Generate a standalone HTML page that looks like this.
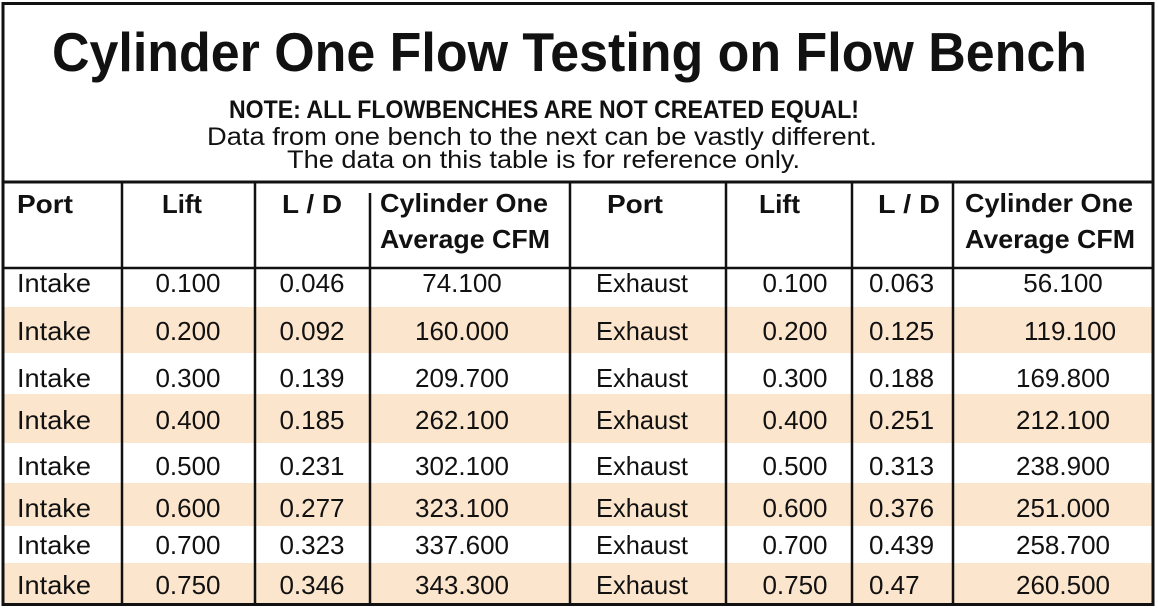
<!DOCTYPE html>
<html>
<head>
<meta charset="utf-8">
<style>
  html, body { margin: 0; padding: 0; background: #ffffff; }
  svg { display: block; }
  text { font-family: "Liberation Sans", Arial, sans-serif; fill: #111111; }
  .h { font-weight: bold; font-size: 26px; }
  .d { font-size: 26px; }
</style>
</head>
<body>
<svg width="1158" height="610" viewBox="0 0 1158 610" xmlns="http://www.w3.org/2000/svg">
  <rect x="0" y="0" width="1158" height="610" fill="#ffffff"/>

  <!-- stripe bands -->
  <rect x="3" y="307" width="1150" height="46" fill="#fce5cd"/>
  <rect x="3" y="394" width="1150" height="49" fill="#fce5cd"/>
  <rect x="3" y="483" width="1150" height="43" fill="#fce5cd"/>
  <rect x="3" y="563" width="1150" height="42" fill="#fce5cd"/>

  <!-- Title block -->
  <text x="52" y="71" font-size="55" font-weight="bold" textLength="1035" lengthAdjust="spacingAndGlyphs">Cylinder One Flow Testing on Flow Bench</text>
  <text x="229" y="118" font-size="25" font-weight="bold" textLength="630" lengthAdjust="spacingAndGlyphs">NOTE: ALL FLOWBENCHES ARE NOT CREATED EQUAL!</text>
  <text x="207" y="145" font-size="25" textLength="670" lengthAdjust="spacingAndGlyphs">Data from one bench to the next can be vastly different.</text>
  <text x="287" y="168" font-size="25" textLength="513" lengthAdjust="spacingAndGlyphs">The data on this table is for reference only.</text>

  <!-- Header -->
  <text class="h" x="17" y="213" textLength="56" lengthAdjust="spacingAndGlyphs">Port</text>
  <text class="h" x="162" y="213" textLength="40" lengthAdjust="spacingAndGlyphs">Lift</text>
  <text class="h" x="282" y="213" textLength="60" lengthAdjust="spacingAndGlyphs">L / D</text>
  <text class="h" x="380" y="212" textLength="168" lengthAdjust="spacingAndGlyphs">Cylinder One</text>
  <text class="h" x="380" y="248" textLength="170" lengthAdjust="spacingAndGlyphs">Average CFM</text>

  <text class="h" x="607" y="213" textLength="56" lengthAdjust="spacingAndGlyphs">Port</text>
  <text class="h" x="759" y="213" textLength="41" lengthAdjust="spacingAndGlyphs">Lift</text>
  <text class="h" x="878" y="213" textLength="62" lengthAdjust="spacingAndGlyphs">L / D</text>
  <text class="h" x="965" y="212" textLength="168" lengthAdjust="spacingAndGlyphs">Cylinder One</text>
  <text class="h" x="965" y="248" textLength="170" lengthAdjust="spacingAndGlyphs">Average CFM</text>

  <!-- Data rows -->
  <g class="d">
    <!-- row 1 -->
    <text class="d" x="17" y="292" textLength="74" lengthAdjust="spacingAndGlyphs">Intake</text>
    <text class="d" x="188" y="292" text-anchor="middle">0.100</text>
    <text class="d" x="312" y="292" text-anchor="middle">0.046</text>
    <text class="d" x="462" y="292" text-anchor="middle">74.100</text>
    <text class="d" x="596" y="292" textLength="92" lengthAdjust="spacingAndGlyphs">Exhaust</text>
    <text class="d" x="795" y="292" text-anchor="middle">0.100</text>
    <text class="d" x="869" y="292">0.063</text>
    <text class="d" x="1063" y="292" text-anchor="middle">56.100</text>

    <!-- row 2 -->
    <text class="d" x="17" y="340" textLength="74" lengthAdjust="spacingAndGlyphs">Intake</text>
    <text class="d" x="188" y="340" text-anchor="middle">0.200</text>
    <text class="d" x="312" y="340" text-anchor="middle">0.092</text>
    <text class="d" x="462" y="340" text-anchor="middle">160.000</text>
    <text class="d" x="596" y="340" textLength="92" lengthAdjust="spacingAndGlyphs">Exhaust</text>
    <text class="d" x="795" y="340" text-anchor="middle">0.200</text>
    <text class="d" x="869" y="340">0.125</text>
    <text class="d" x="1070" y="340" text-anchor="middle">119.100</text>

    <!-- row 3 -->
    <text class="d" x="17" y="387" textLength="74" lengthAdjust="spacingAndGlyphs">Intake</text>
    <text class="d" x="188" y="387" text-anchor="middle">0.300</text>
    <text class="d" x="312" y="387" text-anchor="middle">0.139</text>
    <text class="d" x="462" y="387" text-anchor="middle">209.700</text>
    <text class="d" x="596" y="387" textLength="92" lengthAdjust="spacingAndGlyphs">Exhaust</text>
    <text class="d" x="795" y="387" text-anchor="middle">0.300</text>
    <text class="d" x="869" y="387">0.188</text>
    <text class="d" x="1063" y="387" text-anchor="middle">169.800</text>

    <!-- row 4 -->
    <text class="d" x="17" y="429" textLength="74" lengthAdjust="spacingAndGlyphs">Intake</text>
    <text class="d" x="188" y="429" text-anchor="middle">0.400</text>
    <text class="d" x="312" y="429" text-anchor="middle">0.185</text>
    <text class="d" x="462" y="429" text-anchor="middle">262.100</text>
    <text class="d" x="596" y="429" textLength="92" lengthAdjust="spacingAndGlyphs">Exhaust</text>
    <text class="d" x="795" y="429" text-anchor="middle">0.400</text>
    <text class="d" x="869" y="429">0.251</text>
    <text class="d" x="1063" y="429" text-anchor="middle">212.100</text>

    <!-- row 5 -->
    <text class="d" x="17" y="475" textLength="74" lengthAdjust="spacingAndGlyphs">Intake</text>
    <text class="d" x="188" y="475" text-anchor="middle">0.500</text>
    <text class="d" x="312" y="475" text-anchor="middle">0.231</text>
    <text class="d" x="462" y="475" text-anchor="middle">302.100</text>
    <text class="d" x="596" y="475" textLength="92" lengthAdjust="spacingAndGlyphs">Exhaust</text>
    <text class="d" x="795" y="475" text-anchor="middle">0.500</text>
    <text class="d" x="869" y="475">0.313</text>
    <text class="d" x="1063" y="475" text-anchor="middle">238.900</text>

    <!-- row 6 -->
    <text class="d" x="17" y="517" textLength="74" lengthAdjust="spacingAndGlyphs">Intake</text>
    <text class="d" x="188" y="517" text-anchor="middle">0.600</text>
    <text class="d" x="312" y="517" text-anchor="middle">0.277</text>
    <text class="d" x="462" y="517" text-anchor="middle">323.100</text>
    <text class="d" x="596" y="517" textLength="92" lengthAdjust="spacingAndGlyphs">Exhaust</text>
    <text class="d" x="795" y="517" text-anchor="middle">0.600</text>
    <text class="d" x="869" y="517">0.376</text>
    <text class="d" x="1063" y="517" text-anchor="middle">251.000</text>

    <!-- row 7 -->
    <text class="d" x="17" y="554" textLength="74" lengthAdjust="spacingAndGlyphs">Intake</text>
    <text class="d" x="188" y="554" text-anchor="middle">0.700</text>
    <text class="d" x="312" y="554" text-anchor="middle">0.323</text>
    <text class="d" x="462" y="554" text-anchor="middle">337.600</text>
    <text class="d" x="596" y="554" textLength="92" lengthAdjust="spacingAndGlyphs">Exhaust</text>
    <text class="d" x="795" y="554" text-anchor="middle">0.700</text>
    <text class="d" x="869" y="554">0.439</text>
    <text class="d" x="1063" y="554" text-anchor="middle">258.700</text>

    <!-- row 8 -->
    <text class="d" x="17" y="594" textLength="74" lengthAdjust="spacingAndGlyphs">Intake</text>
    <text class="d" x="188" y="594" text-anchor="middle">0.750</text>
    <text class="d" x="312" y="594" text-anchor="middle">0.346</text>
    <text class="d" x="462" y="594" text-anchor="middle">343.300</text>
    <text class="d" x="596" y="594" textLength="92" lengthAdjust="spacingAndGlyphs">Exhaust</text>
    <text class="d" x="795" y="594" text-anchor="middle">0.750</text>
    <text class="d" x="869" y="594">0.47</text>
    <text class="d" x="1063" y="594" text-anchor="middle">260.500</text>
  </g>

  <!-- Grid lines -->
  <g stroke="#111111" fill="none">
    <rect x="3" y="3.5" width="1150" height="601" stroke-width="3"/>
    <line x1="3" y1="182" x2="1153" y2="182" stroke-width="3"/>
    <line x1="3" y1="268" x2="1153" y2="268" stroke-width="2.5"/>
    <line x1="122" y1="182" x2="122" y2="605" stroke-width="2.5"/>
    <line x1="255" y1="182" x2="255" y2="605" stroke-width="2.5"/>
    <line x1="370" y1="193" x2="370" y2="605" stroke-width="2.5"/>
    <line x1="570" y1="182" x2="570" y2="605" stroke-width="2.5"/>
    <line x1="726" y1="182" x2="726" y2="605" stroke-width="2.5"/>
    <line x1="852" y1="182" x2="852" y2="605" stroke-width="2.5"/>
    <line x1="953" y1="182" x2="953" y2="605" stroke-width="2.5"/>
  </g>
</svg>
</body>
</html>
